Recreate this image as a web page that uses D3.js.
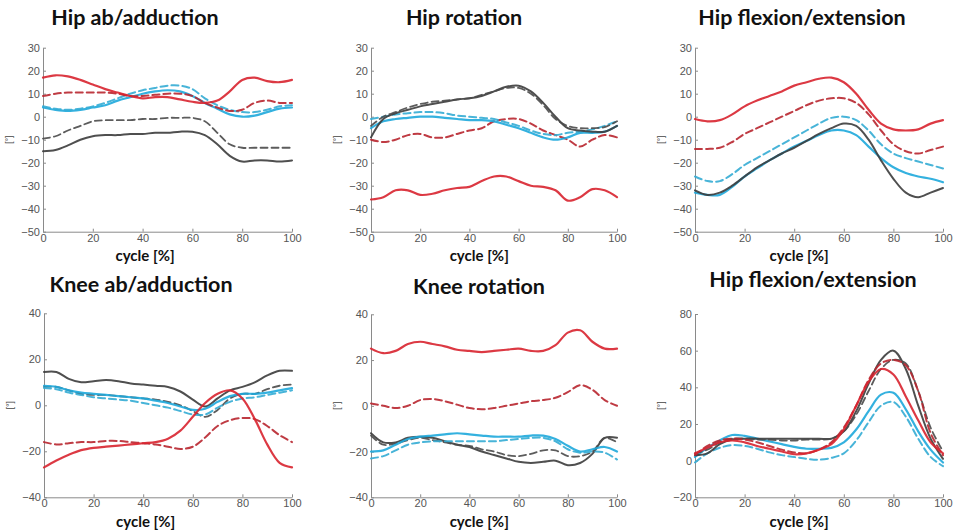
<!DOCTYPE html>
<html>
<head>
<meta charset="utf-8">
<script src="https://cdn.jsdelivr.net/npm/d3@7"></script>
<style>
  body { margin: 0; background: #fff; }
  .title { font-family: Lato, "Open Sans", sans-serif; font-weight: bold; font-size: 21.5px; fill: #111; }
  .xlabel { font-family: Lato, "Open Sans", sans-serif; font-weight: bold; font-size: 15px; fill: #111; }
  .ylabel { font-family: "Liberation Sans", Arial, sans-serif; font-size: 9px; fill: #444; }
  .axis text { font-family: "Liberation Sans", Arial, sans-serif; font-size: 11px; fill: #555; }
  .axis path, .axis line { stroke: #8a8a8a; }
</style>
</head>
<body>
<div id="svg"></div>
<script>
/* gait curves, six joints, one cycle */

const cycle = [0, 5, 10, 15, 20, 25, 30, 35, 40, 45, 50, 55, 60, 65, 70, 75, 80, 85, 90, 95, 100];

// Hip ab/adduction
const hipAbRed      = [17, 18, 17.5, 16, 14, 12, 10.5, 9, 8, 8.5, 8.5, 7.5, 6.5, 6, 7, 11, 16, 17, 15.5, 15, 16];
const hipAbRedDash  = [9, 10, 10.5, 10.5, 10.5, 10.5, 10, 9, 9, 9.5, 10, 10, 9, 6, 4, 2.5, 3, 6, 7, 6, 6];
const hipAbCyan     = [4, 3, 2.5, 3, 4, 5, 7, 8.5, 10, 11, 11.5, 11, 9, 6, 3.5, 1, 0, 0.5, 2, 3.5, 4];
const hipAbCyanDash = [4.5, 3.5, 3, 3.5, 4.5, 6, 8, 10, 11.5, 12.5, 13.5, 13.5, 12, 8, 5, 3, 2, 2, 3, 4.5, 5];
const hipAbDark     = [-15, -14.5, -12.5, -10, -8.5, -8, -8, -7.5, -7.5, -7, -7, -6.5, -6.5, -8, -12, -17, -19.5, -19, -19, -19.5, -19];
const hipAbDarkDash = [-9.5, -8.5, -6, -4, -2, -1.5, -1.5, -1.5, -1, -1, -0.5, -0.5, -0.5, -2, -7, -12, -13.5, -13.5, -13.5, -13.5, -13.5];

// Hip rotation
const hipRotRed      = [-36, -35, -32, -32, -34, -33.5, -32, -31, -30.5, -28, -26, -26, -28, -30, -30.5, -32, -36.5, -35, -31.5, -32, -35];
const hipRotRedDash  = [-10, -11, -10, -8, -7.5, -9, -9, -7.5, -6, -5, -2, -1, -1, -3, -6, -8, -10, -13, -10, -8, -9];
const hipRotCyan     = [-5, -2, -1, -0.5, 0, 0, -0.5, -1, -1.5, -1.5, -2, -3.5, -5, -7, -9, -10, -9, -7, -7, -6.5, -4];
const hipRotCyanDash = [-1, 0, 1, 1.5, 2, 2, 1.5, 0.5, 0, -0.5, -1, -2.5, -4, -6, -7.5, -8, -7, -6.5, -5.5, -4, -2];
const hipRotDark     = [-9, -1, 1.5, 3, 4.5, 5.5, 6.5, 7.5, 8, 9, 11, 13, 13.5, 11, 6, 0, -5, -6, -6.5, -6.5, -4];
const hipRotDarkDash = [-4, 0, 2, 4, 5.5, 6.5, 7, 7.5, 8, 9.5, 11, 12.5, 12.5, 10, 5, -1, -4, -5, -5, -4.5, -2];

// Hip flexion/extension (top)
const hipFlexRed      = [-1, -2, -1.5, 1, 4.5, 7, 9, 11, 13.5, 15, 16.5, 17, 15, 10, 3, -3, -5.5, -6, -5.5, -3, -1.5];
const hipFlexRedDash  = [-14, -14, -13.5, -11, -7.5, -5, -2.5, 0, 2.5, 5, 7, 8, 8, 6, 1, -6, -12, -15, -16, -14.5, -13];
const hipFlexCyan     = [-33, -34, -34, -30.5, -26, -22.5, -19, -16, -13, -10.5, -8, -6, -6, -8, -13, -18, -22, -24.5, -26, -27, -28.5];
const hipFlexCyanDash = [-26, -28, -28, -25, -21, -18, -15, -12, -9, -6, -3, -0.5, 0, -1.5, -6, -12, -16, -18, -19.5, -21, -22.5];
const hipFlexDark     = [-32, -34, -33, -30, -26, -22, -19, -16, -13.5, -10.5, -7.5, -5, -3, -4, -10, -19, -27, -33, -35, -33, -31];

// Knee ab/adduction
const kneeAbRed      = [-27, -24, -21.5, -19.5, -18.5, -18, -17.5, -17, -16.5, -16, -14.5, -11, -5, 1, 5, 6.5, 3, -6, -17, -25, -27];
const kneeAbRedDash  = [-16, -17, -16.5, -16, -16, -15.5, -15.5, -16, -16.5, -17, -18, -19, -18, -14, -9, -6.5, -5.5, -6, -9, -13, -16];
const kneeAbCyan     = [8.5, 8, 6.5, 5.5, 5, 4.5, 4, 3.5, 3, 2, 1, -0.5, -2, -1.5, 1.5, 4, 5, 5, 5.5, 6.5, 7.5];
const kneeAbCyanDash = [7.5, 7, 5.5, 4.5, 3.5, 3, 2.5, 2, 1, 0, -1, -2.5, -4, -4, -1, 1.5, 3, 3.5, 4.5, 5.5, 6.5];
const kneeAbDark     = [14.5, 14.5, 11.5, 10, 10.5, 11, 10.5, 9.5, 9, 8.5, 8, 6, 2.5, -0.5, 3, 6.5, 8, 10, 13, 15, 15];
const kneeAbDarkDash = [8, 8, 6.5, 5, 4.5, 4.5, 4, 3.5, 3, 2.5, 1.5, 0, -2.5, -5, -2, 3, 5, 5, 7, 8.5, 9];

// Knee rotation
const kneeRotRed      = [25, 23, 24, 27, 28, 27, 26, 24.5, 24, 23.5, 24, 24.5, 25, 24, 24, 26.5, 32, 33, 28, 25, 25];
const kneeRotRedDash  = [1, 0, -1, 0, 2.5, 3, 2, 0.5, -1, -1.5, -1, 0, 1, 2, 2.5, 3.5, 6, 9, 7, 2.5, 0];
const kneeRotCyan     = [-20, -19.5, -17, -14.5, -13.5, -13, -12.5, -12, -12.5, -13, -13.5, -13.5, -13.5, -13, -13, -14.5, -17.5, -20, -19, -18, -20];
const kneeRotCyanDash = [-23, -22, -19.5, -17, -16, -15.5, -15.5, -15.5, -15.5, -15.5, -15.5, -15, -14.5, -14, -14, -15.5, -19, -20.5, -20, -20.5, -23.5];
const kneeRotDark     = [-12, -16, -16, -14, -13.5, -14, -15.5, -17, -18, -20, -21.5, -23, -24.5, -25, -24.5, -24, -26, -25, -21, -14, -14];
const kneeRotDarkDash = [-13, -17, -16.5, -15, -14, -15, -16, -17, -17.5, -19, -20, -21.5, -22, -21, -19.5, -19.5, -22, -22, -20, -14, -16];

// Hip flexion/extension (bottom)
const flexRed      = [4, 7, 10, 11, 10, 8, 6.5, 5, 3.5, 4, 6, 9, 17, 30, 43, 50, 47, 35, 22, 10, 4];
const flexRedDash  = [3, 8, 11, 12, 11.5, 10, 8, 6, 4.5, 4, 6, 10, 18, 30, 44, 53, 55, 52, 38, 15, 3];
const flexCyan     = [2, 7, 11, 14, 13.5, 12, 10.5, 9, 7.5, 6.5, 6.5, 7, 10, 17, 27, 36, 37, 28, 16, 6, -1];
const flexCyanDash = [-1, 4, 7, 8.5, 8, 6.5, 4.5, 3, 2, 1, 0.5, 1.5, 4, 11, 21, 30, 32, 24, 12, 2, -3];
const flexDark     = [3, 4, 9, 11.5, 12, 12, 12, 12, 12, 12, 12, 12, 16, 27, 42, 55, 60, 50, 30, 12, 1];
const flexDarkDash = [4, 6, 10, 12, 12, 11.5, 11.5, 11, 11, 11.5, 11.5, 12, 16, 25, 38, 50, 55, 53, 38, 18, 5];

const xTicks = [0, 20, 40, 60, 80, 100];
const yTicksHip = [-50, -40, -30, -20, -10, 0, 10, 20, 30];
const yTicksKnee = [-40, -20, 0, 20, 40];
const yTicksFlex = [-20, 0, 20, 40, 60, 80];

const titles = ["Hip ab/adduction", "Hip rotation", "Hip flexion/extension",
                "Knee ab/adduction", "Knee rotation", "Hip flexion/extension"];

let styles = {
  red:      { color: "#d8232f", dash: null,  width: 2.2 },
  redDash:  { color: "#b8262f", dash: "7,4", width: 2 },
  cyan:     { color: "#1ea8dc", dash: null,  width: 2.2 },
  cyanDash: { color: "#34acd4", dash: "7,4", width: 2 },
  dark:     { color: "#3c3c3c", dash: null,  width: 2 },
  darkDash: { color: "#4a4a4a", dash: "7,4", width: 1.8 }
};

let panels = [
  { title: titles[0], box: [43, 292, 47.7, 231.7], yDom: [-50, 30], yTicks: yTicksHip, tx: 135, ty: 25, lx: 41, ly: 261,
    series: [["dark", hipAbDark], ["darkDash", hipAbDarkDash], ["cyan", hipAbCyan], ["cyanDash", hipAbCyanDash], ["redDash", hipAbRedDash], ["red", hipAbRed]] },
  { title: titles[1], box: [371, 617, 47.7, 231.7], yDom: [-50, 30], yTicks: yTicksHip, tx: 464, ty: 25, lx: 44, ly: 261,
    series: [["red", hipRotRed], ["redDash", hipRotRedDash], ["cyan", hipRotCyan], ["cyanDash", hipRotCyanDash], ["dark", hipRotDark], ["darkDash", hipRotDarkDash]] },
  { title: titles[2], box: [695, 943, 47.7, 231.7], yDom: [-50, 30], yTicks: yTicksHip, tx: 802, ty: 25, lx: 42, ly: 261,
    series: [["red", hipFlexRed], ["redDash", hipFlexRedDash], ["cyanDash", hipFlexCyanDash], ["cyan", hipFlexCyan], ["dark", hipFlexDark]] },
  { title: titles[3], box: [44, 292, 313.3, 497.3], yDom: [-40, 40], yTicks: yTicksKnee, tx: 141, ty: 292, lx: 41, ly: 527,
    series: [["dark", kneeAbDark], ["darkDash", kneeAbDarkDash], ["cyan", kneeAbCyan], ["cyanDash", kneeAbCyanDash], ["redDash", kneeAbRedDash], ["red", kneeAbRed]] },
  { title: titles[4], box: [371, 617, 314.3, 497.3], yDom: [-40, 40], yTicks: yTicksKnee, tx: 479, ty: 294, lx: 44, ly: 527,
    series: [["red", kneeRotRed], ["redDash", kneeRotRedDash], ["dark", kneeRotDark], ["darkDash", kneeRotDarkDash], ["cyan", kneeRotCyan], ["cyanDash", kneeRotCyanDash]] },
  { title: titles[5], box: [695, 943, 314, 497.3], yDom: [-20, 80], yTicks: yTicksFlex, tx: 813, ty: 287, lx: 42, ly: 527,
    series: [["cyanDash", flexCyanDash], ["cyan", flexCyan], ["dark", flexDark], ["darkDash", flexDarkDash], ["redDash", flexRedDash], ["red", flexRed]] }
];

function makeGraph() {
  let w = 960, h = 532;
  let svg = d3.select("#svg").append("svg")
              .attr("width", w)
              .attr("height", h);

  panels.forEach(p => {
    let [x0, x1, y0, y1] = p.box;
    let x = d3.scaleLinear().domain([0, 100]).range([x0, x1]);
    let y = d3.scaleLinear().domain(p.yDom).range([y1, y0]);
    let g = svg.append("g");

    g.append("g")
     .classed("axis", true)
     .attr("transform", `translate(0,${y1})`)
     .call(d3.axisBottom(x).tickValues(xTicks).tickSizeInner(-3).tickSizeOuter(0).tickPadding(2));

    g.append("g")
     .classed("axis", true)
     .attr("transform", `translate(${x0},0)`)
     .call(d3.axisLeft(y).tickValues(p.yTicks).tickSizeInner(-3).tickSizeOuter(0).tickPadding(3));

    let line = d3.line()
                 .x((d, i) => x(cycle[i]))
                 .y(d => y(d))
                 .curve(d3.curveCatmullRom);

    p.series.forEach(([key, vals]) => {
      let s = styles[key];
      g.append("path")
       .attr("d", line(vals))
       .attr("fill", "none")
       .attr("stroke", s.color)
       .attr("stroke-width", s.width)
       .attr("stroke-dasharray", s.dash)
       .attr("stroke-linecap", "round")
       .attr("opacity", 0.9);
    });

    g.append("text")
     .classed("title", true)
     .attr("x", p.tx)
     .attr("y", p.ty)
     .attr("text-anchor", "middle")
     .text(p.title);

    g.append("text")
     .classed("xlabel", true)
     .attr("x", x(p.lx))
     .attr("y", p.ly)
     .attr("text-anchor", "middle")
     .text("cycle [%]");

    g.append("text")
     .classed("ylabel", true)
     .attr("transform", `translate(${x0 - 31},${(y0 + y1) / 2}) rotate(-90)`)
     .attr("text-anchor", "middle")
     .text("[°]");
  });
}

window.onload = function() {
  makeGraph();
};
</script>
</body>
</html>
